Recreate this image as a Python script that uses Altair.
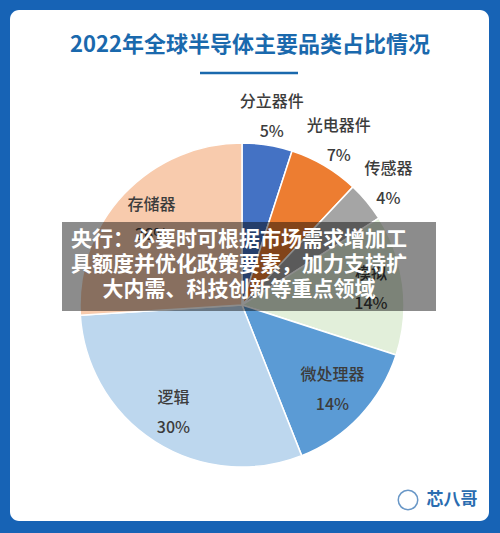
import altair as alt
import pandas as pd

title_text = "2022年全球半导体主要品类占比情况"
categories = ["分立器件", "光电器件", "传感器", "模拟", "微处理器", "逻辑", "存储器"]
shares = [5, 7, 4, 14, 14, 30, 26]
colors = ["#4472c4", "#ed7d31", "#a5a5a5", "#e2efda", "#5b9bd5", "#bdd7ee", "#f8cbad"]
overlay_lines = [
    "央行：必要时可根据市场需求增加工",
    "具额度并优化政策要素，加力支持扩",
    "大内需、科技创新等重点领域",
]
brand = "芯八哥"

FONT = "Noto Sans CJK SC"
CX, CY, R = 242, 305, 162

df = pd.DataFrame({
    "cat": categories,
    "share": shares,
    "idx": list(range(len(categories))),
})
df["pct"] = [f"{v}%" for v in shares]

one = alt.Data(values=[{"a": 1}])

card = alt.Chart(one).mark_rect(fill="white", cornerRadius=9).encode(
    x=alt.value(10), x2=alt.value(489), y=alt.value(10), y2=alt.value(521)
)

base = alt.Chart(df)

pie = base.mark_arc(outerRadius=R, stroke="white", strokeWidth=1.5).encode(
    theta=alt.Theta("share:Q", stack=True),
    order=alt.Order("idx:Q", sort="ascending"),
    color=alt.Color("cat:N", scale=alt.Scale(domain=categories, range=colors), legend=None),
    x=alt.value(CX), y=alt.value(CY),
)

lab = base.transform_window(
    cum="sum(share)", sort=[alt.SortField("idx", order="ascending")], frame=[None, 0]
).transform_joinaggregate(
    tot="sum(share)"
).transform_calculate(
    mid="(datum.cum - datum.share / 2) / datum.tot * 2 * PI",
    r="datum.idx < 3 ? 190 : (datum.idx == 3 ? 130 : (datum.idx == 5 ? 128 : 124))",
).transform_calculate(
    lx=f"{CX} + datum.r * sin(datum.mid)",
    ly=f"{CY} - datum.r * cos(datum.mid)",
)
names = lab.mark_text(font=FONT, fontSize=16, fontWeight=500, color="#3c3c3c", dy=-15).encode(
    x=alt.X("lx:Q", scale=None), y=alt.Y("ly:Q", scale=None), text="cat:N",
)
pcts = lab.mark_text(font=FONT, fontSize=16, fontWeight=500, color="#3c3c3c", dy=15).encode(
    x=alt.X("lx:Q", scale=None), y=alt.Y("ly:Q", scale=None), text="pct:N",
)

overlay = alt.Chart(one).mark_rect(fill="black", opacity=0.45).encode(
    x=alt.value(62), x2=alt.value(436), y=alt.value(222), y2=alt.value(311)
)

ov_df = pd.DataFrame({"t": overlay_lines, "i": list(range(len(overlay_lines)))})
ov_text = alt.Chart(ov_df).transform_calculate(
    yy="240 + datum.i * 25"
).mark_text(font=FONT, fontSize=21, fontWeight="bold", color="white").encode(
    x=alt.value(239),
    y=alt.Y("yy:Q", scale=None),
    text="t:N",
)

title = alt.Chart(alt.Data(values=[{"t": title_text}])).mark_text(
    font=FONT, fontSize=22, fontWeight="bold", color="#1a69ad"
).encode(x=alt.value(250), y=alt.value(45), text="t:N")

underline = alt.Chart(one).mark_rule(color="#1a69ad", strokeWidth=2.5).encode(
    x=alt.value(200), x2=alt.value(298), y=alt.value(73)
)

logo_ring = alt.Chart(one).mark_point(shape="circle", size=380, stroke="#2a6cb0",
                                      strokeWidth=1.5, filled=False).encode(
    x=alt.value(408), y=alt.value(500)
)
logo = alt.Chart(alt.Data(values=[{"t": brand}])).mark_text(
    font=FONT, fontSize=17, fontWeight="bold", color="#2a6cb0"
).encode(x=alt.value(452), y=alt.value(500), text="t:N")

chart = alt.layer(
    card, pie, names, pcts, overlay, ov_text, title, underline, logo_ring, logo
).properties(
    width=500, height=533, background="#1763b5", padding=0,
    autosize=alt.AutoSizeParams(type="none"),
).configure_view(stroke=None)

chart.save("out.html", embed_options={"renderer": "svg", "actions": False})
